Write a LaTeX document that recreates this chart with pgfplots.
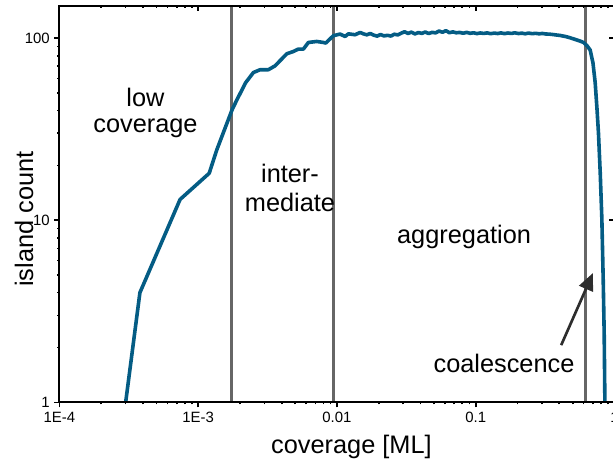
\documentclass[border=0pt]{standalone}
\usepackage{pgfplots}
\pgfplotsset{compat=1.18}
\usepackage{fontspec}
\setmainfont{Liberation Sans}
\usetikzlibrary{arrows.meta}

\definecolor{islandblue}{RGB}{4,92,132}
\definecolor{phasegray}{RGB}{102,102,102}
\definecolor{pointergray}{RGB}{45,45,45}

\begin{document}
\begin{tikzpicture}
\begin{axis}[
  scale only axis, width=416.2pt, height=297.2pt,
  at={(0pt,0pt)}, anchor=south west,
  xmode=log, ymode=log,
  xmin=1e-4, xmax=1, ymin=1, ymax=150,
  xtick={1e-4,1e-3,1e-2,1e-1,1},
  ytick={1,10,100},
  minor xtick={2e-4,3e-4,4e-4,5e-4,6e-4,7e-4,8e-4,9e-4,
               2e-3,3e-3,4e-3,5e-3,6e-3,7e-3,8e-3,9e-3,
               0.02,0.03,0.04,0.05,0.06,0.07,0.08,0.09,
               0.2,0.3,0.4,0.5,0.6,0.7,0.8,0.9},
  minor ytick={2,3,4,5,6,7,8,9,20,30,40,50,60,70,80,90},
  major tick length=3.75pt, minor tick length=1.6pt,
  every tick/.append style={black, line width=1.2pt},
  axis line style={line width=1.5pt},
  tick align=outside, xtick pos=left, ytick pos=left,
  xticklabels={1E-4,1E-3,0.01,0.1,1},
  yticklabels={1,10,100},
  /pgf/number format/assume math mode=true,
  ticklabel style={font=\fontsize{11.2}{13}\selectfont},
  label style={font=\fontsize{19}{22}\selectfont},
  xlabel={coverage [ML]},
  ylabel={island count},
  xlabel style={at={(axis description cs:0.526,-0.113)}, anchor=center},
  ylabel style={at={(axis description cs:-0.064,0.4625)}, anchor=center},
]
% phase boundaries
\addplot[draw=phasegray, line width=2.2pt] coordinates {(1.75e-3,1) (1.75e-3,150)};
\addplot[draw=phasegray, line width=2.2pt] coordinates {(9.37e-3,1) (9.37e-3,150)};
\addplot[draw=phasegray, line width=2.2pt] coordinates {(0.615,1) (0.615,150)};

% island count vs coverage
\addplot[draw=islandblue, line width=2.7pt, line join=round] table[x=x, y=y] {
x y
3.0e-4 1.0
3.8e-4 4.0
7.4e-4 13.0
1.20e-3 18.1
1.36e-3 24.3
1.75e-3 40.2
1.90e-3 45.8
2.20e-3 57.0
2.50e-3 64.7
2.79e-3 67.0
3.20e-3 67.0
3.58e-3 70.4
4.35e-3 82.0
4.85e-3 84.4
5.27e-3 87.0
5.73e-3 87.0
6.22e-3 94.6
7.15e-3 95.8
7.98e-3 94.6
8.30e-3 93.9
9.42e-3 103.0
0.01053 105.2
0.01144 102.0
0.01208 105.5
0.01351 104.3
0.0147 107.4
0.0155 105.5
0.0164 104.2
0.0174 106.0
0.0184 103.8
0.0195 102.5
0.0206 104.6
0.0218 102.8
0.0231 103.5
0.0245 102.6
0.0259 105.0
0.0274 104.1
0.0290 106.3
0.0307 108.4
0.0325 106.0
0.0344 107.8
0.0365 105.4
0.0386 107.2
0.0409 106.1
0.0433 108.0
0.0458 105.9
0.0485 107.5
0.0514 106.8
0.0544 109.3
0.0576 107.6
0.0610 109.8
0.0646 107.0
0.0684 108.2
0.0724 106.9
0.0767 107.4
0.0812 106.3
0.0860 107.5
0.0910 106.2
0.0964 106.9
0.102 105.8
0.108 106.7
0.114 106.0
0.121 106.8
0.128 105.7
0.136 106.5
0.144 105.9
0.152 106.8
0.161 105.8
0.171 106.6
0.181 106.0
0.191 106.9
0.203 105.9
0.215 106.4
0.227 105.6
0.241 106.5
0.255 105.7
0.270 106.2
0.286 105.5
0.302 106.0
0.320 105.3
0.339 105.1
0.359 104.6
0.380 104.0
0.402 103.5
0.426 102.6
0.451 101.7
0.478 100.4
0.506 99.0
0.536 97.6
0.567 96.2
0.600 94.5
0.636 90.5
0.668 86.0
0.700 73.0
0.726 57.0
0.748 41.0
0.767 30.0
0.790 18.0
0.811 10.2
0.830 4.6
0.843 2.4
0.853 1.0
};

% regime labels
\node[font=\fontsize{19}{19.5}\selectfont, align=center, inner sep=0pt]
  at (axis description cs:0.155,0.730) {low\\coverage};
\node[font=\fontsize{19}{21.5}\selectfont, align=center, inner sep=0pt]
  at (axis description cs:0.4154,0.541) {inter-\\mediate};
\node[font=\fontsize{19}{22}\selectfont, inner sep=0pt]
  at (axis description cs:0.729,0.417) {aggregation};
\node[font=\fontsize{19}{22}\selectfont, inner sep=0pt, anchor=base]
  at (axis description cs:0.801,0.074) {coalescence};
\draw[draw=pointergray, fill=pointergray, line width=2pt, -{Triangle[length=13pt,width=11pt]}]
  (axis cs:0.413,2.06) -- (axis cs:0.70,5.13);
\end{axis}

% mirrored ticks on the top and right edges
\begin{axis}[
  scale only axis, width=416.2pt, height=297.2pt,
  at={(0pt,0pt)}, anchor=south west,
  xmode=log, ymode=log,
  xmin=1e-4, xmax=1, ymin=1, ymax=150,
  xtick={1e-4,1e-3,1e-2,1e-1,1},
  ytick={1,10,100},
  minor xtick={2e-4,3e-4,4e-4,5e-4,6e-4,7e-4,8e-4,9e-4,
               2e-3,3e-3,4e-3,5e-3,6e-3,7e-3,8e-3,9e-3,
               0.02,0.03,0.04,0.05,0.06,0.07,0.08,0.09,
               0.2,0.3,0.4,0.5,0.6,0.7,0.8,0.9},
  yminorticks=false,
  major tick length=3.75pt, minor tick length=1.6pt,
  every tick/.append style={black, line width=1.2pt},
  axis line style={line width=1.5pt},
  tick align=inside, xtick pos=right, ytick pos=right,
  xticklabels={}, yticklabels={},
]
\end{axis}

\pgfresetboundingbox
\path[use as bounding box] (-44.6pt,-44.0pt) rectangle (415.1pt,301.7pt);
\end{tikzpicture}
\end{document}
